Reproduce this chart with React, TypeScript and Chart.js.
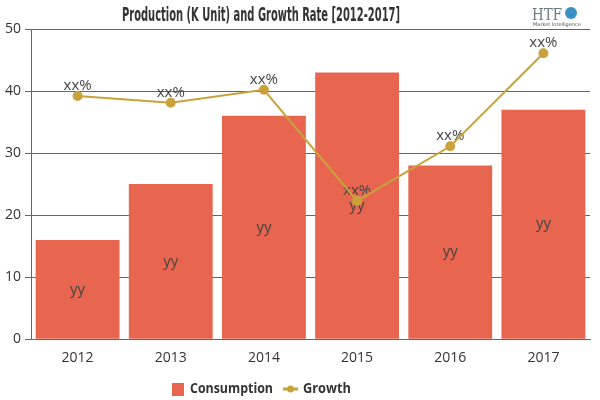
import React, { useEffect, useRef } from "react";
import { Chart, registerables } from "chart.js";

Chart.register(...registerables);

const categories = ["2012", "2013", "2014", "2015", "2016", "2017"];
const consumption = [16, 25, 36, 43, 28, 37];
const growth = [39.2, 38.1, 40.2, 22.3, 31.1, 46.1];
const barLabels = ["yy", "yy", "yy", "yy", "yy", "yy"];
const lineLabels = ["xx%", "xx%", "xx%", "xx%", "xx%", "xx%"];
const yTicks = [0, 10, 20, 30, 40, 50];
const titleText = "Production (K Unit) and Growth Rate [2012-2017]";
const seriesNames = ["Consumption", "Growth"];
const logoText = "HTF";
const logoSub = "Market Intelligence";

const BAR_COLOR = "#E8664F";
const LINE_COLOR = "#C9A23C";

const labelPlugin = {
  id: "valueLabels",
  afterDatasetDraw(chart: any, args: any) {
    if (args.index !== 0) return;
    const ctx = chart.ctx;
    ctx.save();
    ctx.font = "15px 'Open Sans', 'DejaVu Sans', sans-serif";
    ctx.fillStyle = "#444444";
    ctx.textAlign = "center";
    const barMeta = chart.getDatasetMeta(0);
    barMeta.data.forEach((el: any, i: number) => {
      const mid = (el.y + el.base) / 2;
      ctx.textBaseline = "middle";
      ctx.fillText(barLabels[i], el.x, mid);
    });
    const lineMeta = chart.getDatasetMeta(1);
    lineMeta.data.forEach((el: any, i: number) => {
      ctx.textBaseline = "bottom";
      ctx.fillText(lineLabels[i], el.x, el.y - 3);
    });
    ctx.restore();
  },
  afterDraw(chart: any) {
    const ctx = chart.ctx;
    ctx.save();
    ctx.font = "bold 19px 'DejaVu Sans Condensed', 'DejaVu Sans', sans-serif";
    ctx.fillStyle = "#333333";
    ctx.textBaseline = "middle";
    ctx.textAlign = "center";
    ctx.fillText(titleText, 261, 16, 278);
    ctx.restore();

    ctx.save();
    ctx.font = "17px 'DejaVu Serif', serif";
    ctx.fillStyle = "#6b7a86";
    ctx.textAlign = "left";
    ctx.textBaseline = "alphabetic";
    ctx.fillText(logoText, 532, 20, 30);
    ctx.fillStyle = "#3a8fc4";
    ctx.beginPath();
    ctx.arc(571, 13, 6, 0, Math.PI * 2);
    ctx.fill();
    ctx.font = "5px 'DejaVu Sans', sans-serif";
    ctx.fillStyle = "#555555";
    ctx.fillText(logoSub, 533, 26, 48);
    ctx.restore();

    ctx.save();
    const ly = 389;
    ctx.font = "bold 15px 'Open Sans', 'Noto Sans', sans-serif";
    ctx.textBaseline = "middle";
    ctx.textAlign = "left";
    ctx.fillStyle = BAR_COLOR;
    ctx.fillRect(172, ly - 6, 12, 13);
    ctx.fillStyle = "#333333";
    ctx.fillText(seriesNames[0], 190, ly, 83);
    ctx.strokeStyle = LINE_COLOR;
    ctx.lineWidth = 3;
    ctx.beginPath();
    ctx.moveTo(283, ly);
    ctx.lineTo(298, ly);
    ctx.stroke();
    ctx.fillStyle = LINE_COLOR;
    ctx.beginPath();
    ctx.arc(290.5, ly, 3.5, 0, Math.PI * 2);
    ctx.fill();
    ctx.fillStyle = "#333333";
    ctx.fillText(seriesNames[1], 303, ly, 48);
    ctx.restore();
  },
};

export default function App() {
  const ref = useRef<HTMLCanvasElement>(null);
  useEffect(() => {
    document.body.style.margin = "0";
    const chart = new Chart(ref.current!, {
      type: "bar",
      data: {
        labels: categories,
        datasets: [
          {
            type: "bar",
            label: seriesNames[0],
            data: consumption,
            backgroundColor: BAR_COLOR,
            borderWidth: 0,
            barPercentage: 0.9,
            categoryPercentage: 1,
            order: 2,
          },
          {
            type: "line",
            label: seriesNames[1],
            data: growth,
            borderColor: LINE_COLOR,
            backgroundColor: LINE_COLOR,
            borderWidth: 2,
            pointRadius: 4,
            pointHoverRadius: 4,
            tension: 0,
            order: 1,
          } as any,
        ],
      },
      options: {
        animation: false,
        responsive: false,
        maintainAspectRatio: false,
        layout: { padding: { left: 1, right: 10, top: 29, bottom: 32 } },
        plugins: {
          title: { display: false },
          legend: { display: false },
          tooltip: { enabled: false },
        },
        scales: {
          x: {
            grid: { display: false },
            border: { color: "#666666" },
            ticks: {
              color: "#333333",
              font: { family: "'Open Sans', 'Noto Sans', sans-serif", size: 14 },
              padding: 2,
            },
          },
          y: {
            min: 0,
            max: 50,
            afterBuildTicks: (axis: any) => {
              axis.ticks = yTicks.map((v) => ({ value: v }));
            },
            grid: { color: "#666666", tickLength: 6 },
            border: { color: "#666666" },
            ticks: {
              color: "#333333",
              font: { family: "'Open Sans', 'Noto Sans', sans-serif", size: 14 },
              padding: 4,
            },
          },
        },
      },
      plugins: [labelPlugin],
    });
    return () => chart.destroy();
  }, []);
  return (
    <div style={{ position: "absolute", left: 0, top: 0, width: 600, height: 400 }}>
      <canvas ref={ref} width={600} height={400} />
    </div>
  );
}
